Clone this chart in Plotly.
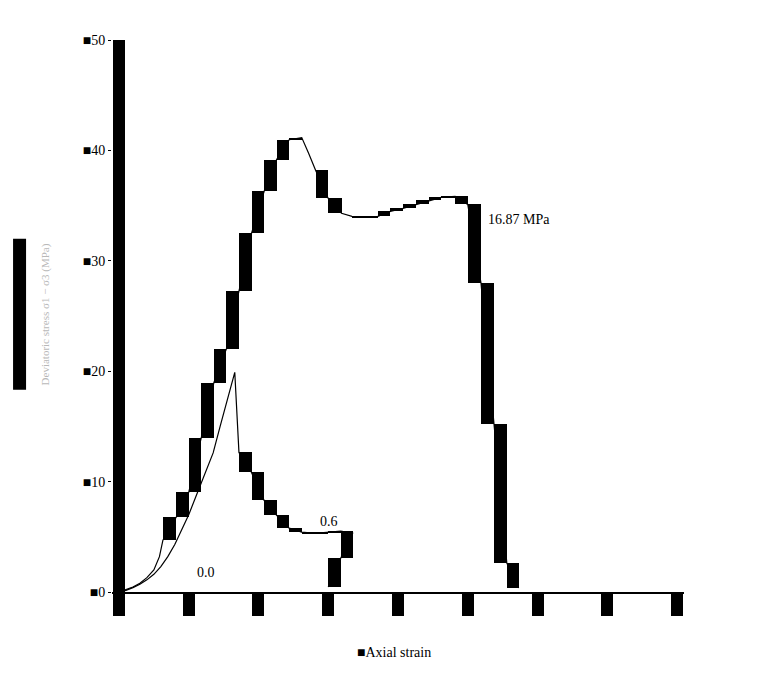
import plotly.graph_objects as go

# ---- data ----
# Curve A: main test curve (post-peak plateau, final drop labelled 16.87 MPa)
strain_a = [0.00, 0.10, 0.20, 0.30, 0.40, 0.50, 0.58, 0.63, 0.82, 1.00, 1.18, 1.36, 1.54,
            1.72, 1.90, 2.08, 2.26, 2.44, 2.62, 2.72, 2.82, 3.00, 3.19, 3.34, 3.53, 3.71,
            3.89, 4.07, 4.26, 4.44, 4.62, 4.82, 5.00, 5.19, 5.38, 5.56, 5.73]
stress_a = [0.00, 0.20, 0.45, 0.80, 1.30, 2.00, 3.20, 4.70, 6.77, 9.03, 13.99, 18.95, 22.02,
            27.26, 32.49, 36.28, 39.17, 40.97, 41.16, 39.71, 38.18, 35.65, 34.30, 34.03, 33.94, 34.03,
            34.48, 34.75, 35.11, 35.47, 35.74, 35.83, 35.11, 27.98, 15.25, 2.62, 0.36]

# Curve B: second test curve (label 0.6)
strain_b = [0.00, 0.10, 0.20, 0.30, 0.40, 0.50, 0.60, 0.70, 0.80, 0.90, 1.00, 1.10, 1.20,
            1.30, 1.35, 1.45, 1.55, 1.66, 1.72, 1.90, 2.08, 2.26, 2.44, 2.62, 2.81, 3.00,
            3.18, 3.35, 3.18, 3.00]
stress_b = [0.00, 0.15, 0.40, 0.70, 1.10, 1.60, 2.30, 3.20, 4.30, 5.60, 7.00, 8.60, 10.20,
            11.80, 12.60, 15.00, 17.40, 19.90, 12.64, 10.83, 8.30, 6.95, 5.78, 5.42, 5.32, 5.42,
            5.51, 5.32, 3.07, 0.45]

x_ticks = [0, 1, 2, 3, 4, 5, 6, 7, 8]
x_ticktext = ["0", "1", "2", "3", "4", "5", "6", "7", "8"]
y_ticks = [0, 10, 20, 30, 40, 50]
y_ticktext = ["■0", "■10", "■20", "■30", "■40", "■50"]

labels_text = ["16.87 MPa", "0.6", "0.0"]
labels_x = [5.26, 2.85, 1.09]
labels_y = [33.75, 6.40, 1.80]

SERIF = "Liberation Serif, Times New Roman, serif"


def blocks(xs, ys, min_dx=0.15):
    """Segment blocks: one bar per sampled segment spanning its stress range."""
    bx, bb, bh, bw = [], [], [], []
    for i in range(len(xs) - 1):
        dx = xs[i + 1] - xs[i]
        if abs(dx) >= min_dx:
            bx.append((xs[i] + xs[i + 1]) / 2)
            lo = min(ys[i], ys[i + 1])
            bb.append(lo)
            bh.append(max(abs(ys[i + 1] - ys[i]), 0.08))
            bw.append(abs(dx))
    return bx, bb, bh, bw


fig = go.Figure()

for xs, ys in [(strain_a, stress_a), (strain_b, stress_b)]:
    bx, bb, bh, bw = blocks(xs, ys)
    fig.add_trace(go.Bar(x=bx, y=bh, base=bb, width=bw,
                         marker=dict(color="black", line=dict(width=0)),
                         showlegend=False, hoverinfo="skip"))
    fig.add_trace(go.Scatter(x=xs, y=ys, mode="lines",
                             line=dict(color="black", width=1.2),
                             showlegend=False))

for t, x, y in zip(labels_text, labels_x, labels_y):
    fig.add_annotation(x=x, y=y, text=t, showarrow=False, xanchor="left",
                       font=dict(family=SERIF, size=14, color="black"))

# axis titles
fig.add_annotation(xref="paper", yref="paper", x=-0.161, y=0.503,
                   xanchor="center", yanchor="middle",
                   text="Deviatoric stress q = σ1 − σ3 / (MPa)", textangle=-90, showarrow=False,
                   font=dict(family=SERIF, size=10, color="black"),
                   bgcolor="black", borderpad=0)
fig.add_annotation(xref="paper", yref="paper", x=-0.117, y=0.503,
                   xanchor="center", yanchor="middle",
                   text="Deviatoric stress σ1 − σ3 (MPa)", textangle=-90, showarrow=False,
                   font=dict(family=SERIF, size=11, color="#b8b8b8"))
fig.add_annotation(xref="paper", yref="paper", x=0.493, y=-0.109,
                   xanchor="center", yanchor="middle",
                   text="■Axial strain", showarrow=False,
                   font=dict(family=SERIF, size=14, color="black"))

fig.update_layout(
    width=757, height=681,
    margin=dict(l=104, r=81, t=32, b=97),
    paper_bgcolor="white", plot_bgcolor="white",
    barmode="overlay", bargap=0,
    font=dict(family=SERIF, color="black"),
    xaxis=dict(range=[-0.1, 8.1], tickvals=x_ticks, ticktext=x_ticktext,
               ticks="outside", ticklen=22, tickwidth=12, tickcolor="black",
               showline=True, linewidth=1.5, linecolor="black",
               zeroline=True, zerolinewidth=12, zerolinecolor="black",
               showgrid=False, ticklabelstandoff=-18,
               tickfont=dict(family=SERIF, size=13, color="black")),
    yaxis=dict(range=[0, 50], tickvals=y_ticks, ticktext=y_ticktext,
               ticks="outside", ticklen=3, tickwidth=1, tickcolor="black",
               showline=False, zeroline=False, showgrid=False,
               tickfont=dict(family=SERIF, size=14, color="black")),
)

fig.write_html("out.html")
